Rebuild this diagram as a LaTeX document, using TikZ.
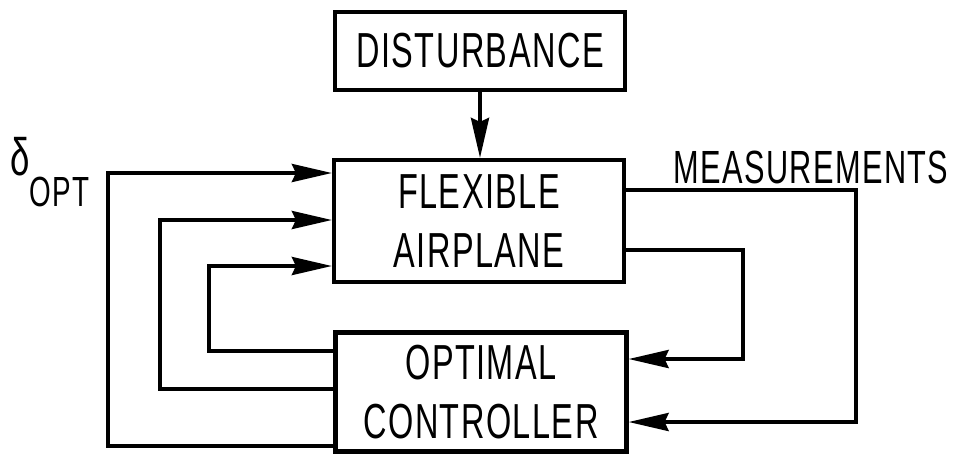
\documentclass[tikz,border=0pt]{standalone}
\usepackage{fontspec}
\setmainfont{Liberation Sans}[FakeStretch=0.66, LetterSpace=3]
\usetikzlibrary{arrows.meta}

\begin{document}
\begin{tikzpicture}[
  x=0.02cm, y=-0.02cm,
  font=\fontsize{28}{34}\selectfont,
  block/.style={draw, line width=2.4pt, align=center, inner sep=0pt},
  sig/.style={line width=2.2pt, -{Stealth[length=8mm,width=3.6mm,inset=0.8mm]}},
]
\useasboundingbox (0,0) rectangle (956,458);

% Blocks
\node[block, minimum width=5.8cm, minimum height=1.56cm] (dist) at (480,51) {DISTURBANCE};
\node[block, minimum width=5.8cm, minimum height=2.44cm] (plane) at (479,221) {FLEXIBLE\\AIRPLANE};
\node[block, minimum width=5.82cm, minimum height=2.38cm] (ctrl) at (481,392) {OPTIMAL\\CONTROLLER};

% Labels
\node[anchor=base west, inner sep=0pt] (delta) at (10,175)
  {\fontsize{30}{30}\selectfont δ\raisebox{-0.62cm}{\fontsize{24}{24}\selectfont OPT}};
\node[inner sep=0pt, font=\fontsize{26.5}{32}\selectfont] (meas) at (811,167) {MEASUREMENTS};

% Disturbance into airplane
\draw[sig] (dist.south) -- (dist.south |- plane.north);

% Control signals back to the airplane
\draw[sig] (ctrl.west |- 0,351) -- (209,351) |- (plane.west |- 0,266);
\draw[sig] (ctrl.west |- 0,389) -- (160,389) |- (plane.west |- 0,220);
\draw[sig] (ctrl.west |- 0,446) -- (108,446) |- (plane.west |- 0,173);

% Measurements to the controller
\draw[sig] (plane.east |- 0,250) -- (743,250) |- (ctrl.east |- 0,359);
\draw[sig] (plane.east |- 0,190) -- (856,190) |- (ctrl.east |- 0,422);
\end{tikzpicture}
\end{document}
